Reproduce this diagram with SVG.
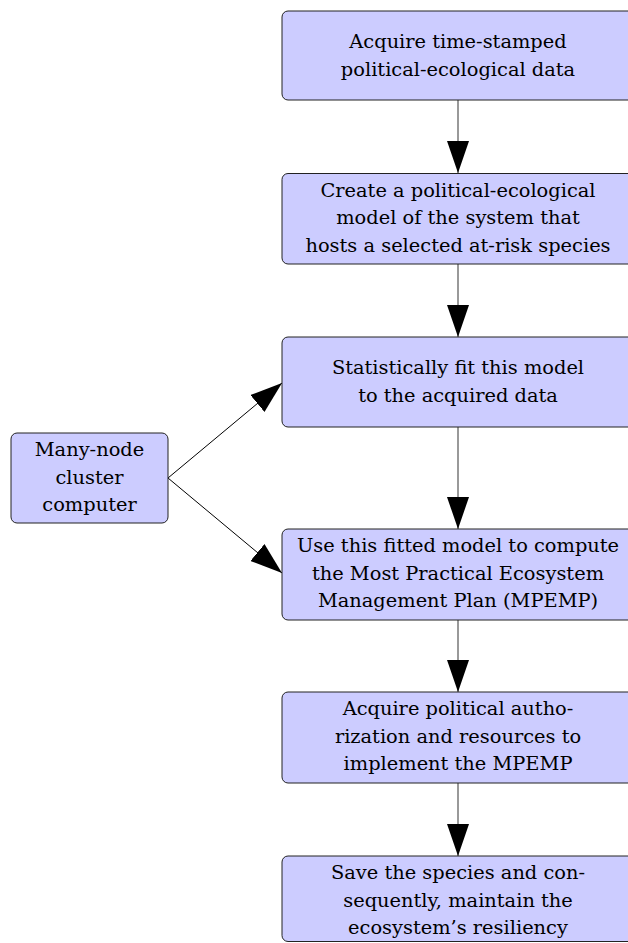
<svg xmlns="http://www.w3.org/2000/svg" width="628" height="943" viewBox="0 0 628 943">
<style>
.box{fill:#ccccff;stroke:#222;stroke-width:1}
.t{fill:#000;text-anchor:middle;font-family:"DejaVu Serif","Liberation Serif",serif;font-size:19.4px}
.v{stroke:#555;stroke-width:1.2;fill:none}
.d{stroke:#000;stroke-width:1;fill:none}
</style>
<defs>
<marker id="ah" viewBox="0 0 32 22" refX="32" refY="11" markerWidth="32" markerHeight="22" markerUnits="userSpaceOnUse" orient="auto">
<path d="M0,0 L32,11 L0,22 z" fill="#000"/>
</marker>
</defs>
<rect width="628" height="943" fill="#fff"/>
<g id="connectors">
<line class="v" x1="458" y1="100" x2="458" y2="173" marker-end="url(#ah)"/>
<line class="v" x1="458" y1="264" x2="458" y2="337" marker-end="url(#ah)"/>
<line class="v" x1="458" y1="427" x2="458" y2="529" marker-end="url(#ah)"/>
<line class="v" x1="458" y1="620" x2="458" y2="692" marker-end="url(#ah)"/>
<line class="v" x1="458" y1="783" x2="458" y2="856" marker-end="url(#ah)"/>
<line class="d" x1="168" y1="478" x2="282" y2="383" marker-end="url(#ah)"/>
<line class="d" x1="168" y1="478" x2="282" y2="573" marker-end="url(#ah)"/>
</g>
<g id="n1">
<rect class="box" x="282" y="11" width="352" height="89" rx="6"/>
<text class="t" x="458" y="48">Acquire time-stamped</text>
<text class="t" x="458" y="75.5">political-ecological data</text>
</g>
<g id="n2">
<rect class="box" x="282" y="173.5" width="352" height="90.5" rx="6"/>
<text class="t" x="458" y="196.5">Create a political-ecological</text>
<text class="t" x="458" y="224">model of the system that</text>
<text class="t" x="458" y="251.5">hosts a selected at-risk species</text>
</g>
<g id="n3">
<rect class="box" x="282" y="337" width="352" height="90" rx="6"/>
<text class="t" x="458" y="374">Statistically fit this model</text>
<text class="t" x="458" y="401.5">to the acquired data</text>
</g>
<g id="n4">
<rect class="box" x="282" y="529" width="352" height="91" rx="6"/>
<text class="t" x="458" y="552">Use this fitted model to compute</text>
<text class="t" x="458" y="579.5">the Most Practical Ecosystem</text>
<text class="t" x="458" y="607">Management Plan (MPEMP)</text>
</g>
<g id="n5">
<rect class="box" x="282" y="692" width="352" height="91" rx="6"/>
<text class="t" x="458" y="715">Acquire political autho-</text>
<text class="t" x="458" y="742.5">rization and resources to</text>
<text class="t" x="458" y="770">implement the MPEMP</text>
</g>
<g id="n6">
<rect class="box" x="282" y="856" width="352" height="85.5" rx="6"/>
<text class="t" x="458" y="879">Save the species and con-</text>
<text class="t" x="458" y="906.5">sequently, maintain the</text>
<text class="t" x="458" y="934">ecosystem’s resiliency</text>
</g>
<g id="n7">
<rect class="box" x="11" y="433" width="157" height="90" rx="6"/>
<text class="t" x="89.5" y="456">Many-node</text>
<text class="t" x="89.5" y="483.5">cluster</text>
<text class="t" x="89.5" y="511">computer</text>
</g>
</svg>
